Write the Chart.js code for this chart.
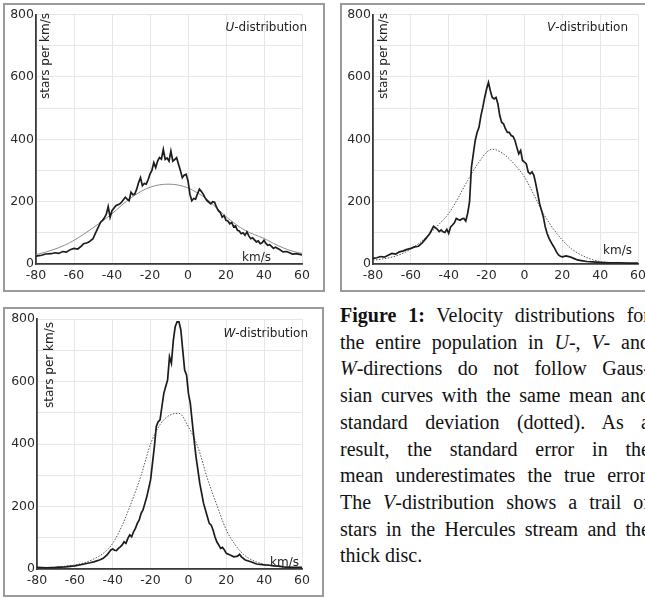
<!DOCTYPE html>
<html>
<head>
<meta charset="utf-8">
<script src="https://cdn.jsdelivr.net/npm/chart.js@4/dist/chart.umd.min.js"></script>
<style>
  html, body { margin: 0; padding: 0; background: #fff; }
  body { width: 645px; height: 599px; position: relative; overflow: hidden; font-family: "DejaVu Sans", sans-serif; }
  .panel { position: absolute; box-sizing: border-box; border: 2px solid #9a9a9a; background: #fff; }
  .panel canvas { position: absolute; left: 0; top: 0; }
  .lbl { position: absolute; font-size: 12px; line-height: 14px; color: #222; white-space: nowrap; }
  .ytitle { writing-mode: vertical-rl; transform: rotate(180deg); }
  .caption { position: absolute; left: 340px; top: 302px; width: 310px; font-family: "Liberation Serif", "Times New Roman", serif; font-size: 20px; line-height: 26.7px; color: #111; }
  .caption div { text-align: justify; text-align-last: justify; }
  .caption div.last { text-align-last: left; }
</style>
</head>
<body>

<div class="panel" style="left:3px;top:3px;width:322px;height:289px"><canvas id="chartU" width="318" height="285"></canvas></div>
<div class="panel" style="left:340px;top:3px;width:322px;height:289px"><canvas id="chartV" width="318" height="285"></canvas></div>
<div class="panel" style="left:3px;top:307px;width:321px;height:290px"><canvas id="chartW" width="317" height="286"></canvas></div>

<!-- in-plot labels -->
<div class="lbl" style="left:200px;top:20px;width:107px;text-align:right"><i>U</i>-distribution</div>
<div class="lbl ytitle" style="left:38px;top:13px">stars per km/s</div>
<div class="lbl" style="left:242px;top:250px">km/s</div>

<div class="lbl" style="left:521px;top:20px;width:107px;text-align:right"><i>V</i>-distribution</div>
<div class="lbl ytitle" style="left:376px;top:13px">stars per km/s</div>
<div class="lbl" style="left:603px;top:243px">km/s</div>

<div class="lbl" style="left:201px;top:326px;width:107px;text-align:right"><i>W</i>-distribution</div>
<div class="lbl ytitle" style="left:42px;top:322px">stars per km/s</div>
<div class="lbl" style="left:270px;top:555px">km/s</div>

<div class="caption">
  <div><b>Figure 1:</b> Velocity distributions for</div>
  <div>the entire population in <i>U</i>-, <i>V</i>- and</div>
  <div><i>W</i>-directions do not follow Gaus-</div>
  <div>sian curves with the same mean and</div>
  <div>standard deviation (dotted). As a</div>
  <div>result, the standard error in the</div>
  <div>mean underestimates the true error.</div>
  <div>The <i>V</i>-distribution shows a trail of</div>
  <div>stars in the Hercules stream and the</div>
  <div class="last">thick disc.</div>
</div>

<script>
(function () {
  // ---- U-distribution (stars per km/s) ----
  const uVel = [
    -80, -77, -75, -72, -70, -68, -66, -64, -62, -60, -58, -56, -55, -53, -52, -50,
    -49, -48, -46, -45, -44, -43, -42, -41, -40, -38, -36, -35, -33, -32, -31, -30,
    -29, -28, -27, -26, -25, -24, -23, -22, -21, -20, -19, -18, -17, -16, -15, -14,
    -13, -12, -11, -10, -9, -8, -7, -6, -5, -4, -3, -2, -1, 0, 1, 2,
    3, 4, 5, 6, 7, 8, 9, 10, 11, 12, 13, 14, 15, 16, 17, 18,
    19, 20, 21, 22, 23, 24, 25, 26, 27, 28, 29, 30, 31, 32, 33, 34,
    36, 37, 38, 39, 40, 41, 42, 43, 45, 46, 48, 50, 52, 55, 57, 60
  ];
  const uCount = [
    25, 28, 32, 33, 36, 34, 40, 38, 46, 50, 48, 58, 65, 68, 71, 81,
    95, 108, 134, 140, 148, 160, 184, 150, 171, 187, 192, 198, 214, 208, 203, 230,
    222, 224, 240, 261, 277, 251, 258, 256, 270, 288, 300, 325, 309, 330, 341, 336,
    367, 335, 340, 330, 362, 330, 335, 341, 320, 300, 277, 285, 288, 267, 224, 203,
    210, 208, 225, 240, 233, 224, 212, 203, 198, 193, 200, 198, 182, 171, 165, 150,
    155, 140, 138, 129, 133, 119, 122, 108, 106, 97, 100, 92, 103, 90, 81, 84,
    71, 74, 65, 68, 76, 66, 60, 62, 50, 54, 47, 39, 40, 32, 33, 29
  ];
  const uFitVel = [-80, -75, -70, -65, -60, -55, -50, -45, -40, -35, -30, -25, -20, -15, -10,
                   -5, 0, 5, 10, 15, 20, 25, 30, 35, 40, 45, 50, 55, 60];
  const uFit = [30, 38, 48, 60, 76, 95, 116, 138, 161, 188, 212, 232, 246, 254, 256,
                253, 244, 228, 208, 180, 152, 128, 108, 94, 82, 66, 52, 41, 34];

  // ---- V-distribution ----
  const vVel = [
    -80, -78, -76, -74, -72, -70, -68, -66, -64, -62, -60, -58, -56, -54, -52, -50, -48,
    -47, -46, -45, -44, -43, -42, -41, -40, -39, -38, -37, -36, -35, -34, -33, -32, -31,
    -30, -29, -28, -27, -26, -25, -24, -23, -22, -21, -20, -19, -18, -17, -16, -15, -14,
    -13, -12, -11, -10, -9, -8, -7, -6, -5, -4, -3, -2, -1, 0, 1, 2,
    3, 4, 5, 6, 7, 8, 9, 10, 11, 12, 13, 14, 15, 16, 17, 18, 19, 20,
    22, 24, 26, 28, 30, 33, 36, 40, 45, 50, 55, 60
  ];
  const vCount = [
    18, 20, 24, 22, 28, 34, 32, 39, 42, 47, 50, 55, 57, 68, 82, 98, 121,
    116, 111, 104, 109, 103, 101, 111, 98, 119, 125, 132, 146, 143, 140, 145, 146, 138,
    162, 199, 310, 353, 396, 422, 438, 475, 502, 534, 561, 582, 555, 534, 529, 534, 513,
    475, 454, 449, 433, 422, 422, 412, 409, 396, 374, 353, 364, 332, 327, 321, 295,
    289, 295, 284, 257, 226, 194, 172, 151, 119, 98, 82, 71, 60, 50, 38, 29, 25, 23,
    26, 23, 18, 13, 11, 8, 7, 5, 4, 4, 3, 3
  ];
  const vFitVel = [-80, -75, -70, -65, -60, -55, -50, -45, -40, -35, -30, -25, -20, -17, -15,
                   -10, -5, 0, 5, 10, 15, 20, 25, 30, 35, 40, 45, 50, 55, 60];
  const vFit = [12, 16, 22, 32, 48, 70, 98, 128, 162, 212, 268, 318, 358, 368, 366,
                348, 318, 279, 222, 162, 115, 77, 48, 29, 16, 8, 4, 2, 1, 0];

  // ---- W-distribution ----
  const wVel = [
    -80, -75, -70, -65, -60, -55, -52, -50, -47, -45, -43, -41,
    -40, -39, -38, -37, -36, -35, -34, -33, -32, -31, -30, -29, -28, -27, -26, -25, -24, -23, -22, -21,
    -20, -19, -18, -17, -16, -15, -14, -13, -12, -11, -10, -9, -8, -7, -6, -5, -4, -3, -2, -1,
    0, 1, 2, 3, 4, 5, 6, 7, 8, 9, 10, 11, 12, 13, 14, 15, 16, 17, 18, 19, 20,
    22, 24, 26, 27, 28, 30, 33, 36, 40, 43, 45, 48, 50, 55, 60
  ];
  const wCount = [
    5, 4, 5, 7, 10, 16, 20, 23, 29, 34, 45, 61,
    64, 60, 59, 66, 71, 77, 87, 82, 98, 109, 103, 119, 130, 146, 157, 178, 189, 210, 231, 258,
    285, 338, 391, 455, 471, 477, 520, 562, 584, 605, 679, 658, 730, 775, 791, 791, 765, 700, 637, 621,
    562, 530, 471, 413, 359, 317, 274, 242, 210, 189, 167, 146, 141, 125, 103, 87, 77, 66, 69, 61, 50,
    45, 39, 41, 47, 39, 29, 23, 16, 13, 12, 10, 9, 7, 5, 5
  ];
  const wFitVel = [-80, -75, -70, -65, -60, -55, -50, -45, -40, -35, -30, -25, -20, -15, -10,
                   -5, 0, 5, 10, 15, 20, 25, 30, 35, 40, 45, 50, 55, 60];
  const wFit = [3, 4, 6, 9, 13, 20, 32, 50, 82, 140, 215, 300, 400, 462, 492,
                498, 455, 390, 290, 205, 125, 75, 42, 25, 15, 9, 6, 4, 3];

  const xTicks = [-80, -60, -40, -20, 0, 20, 40, 60];
  const yTicks = [0, 200, 400, 600, 800];

  const FONT = { family: "'DejaVu Sans', sans-serif", size: 12.5 };
  const GRID = "#e6e6e6";
  const AXIS = "#3a3a3a";

  function pts(xs, ys) { return xs.map((x, i) => ({ x: x, y: ys[i] })); }

  function makePanel(id, obsX, obsY, fitX, fitY, dotted, box) {
    const el = document.getElementById(id);
    return new Chart(el, {
      type: "scatter",
      data: {
        datasets: [
          { data: pts(obsX, obsY), showLine: true, borderColor: "#1c1c1c", borderWidth: 1.7,
            pointRadius: 0, tension: 0 },
          { data: pts(fitX, fitY), showLine: true, borderColor: dotted ? "#555" : "#8c8c8c",
            borderWidth: 1, borderDash: dotted ? [1.5, 1.5] : [], pointRadius: 0,
            cubicInterpolationMode: "monotone" },
        ],
      },
      options: {
        responsive: false, animation: false, events: [],
        layout: { padding: { left: 0, top: box.top, right: box.right, bottom: 0 } },
        plugins: { legend: { display: false }, tooltip: { enabled: false } },
        scales: {
          x: {
            type: "linear", min: xTicks[0], max: xTicks[xTicks.length - 1],
            ticks: { stepSize: 20, font: FONT, color: "#2a2a2a", padding: 4, maxRotation: 0 },
            grid: { color: GRID, drawTicks: false },
            border: { color: AXIS, width: 1.8 },
            afterFit: (s) => { s.height = 26; },
          },
          y: {
            min: yTicks[0], max: yTicks[yTicks.length - 1],
            ticks: { stepSize: 100, font: FONT, color: "#2a2a2a", padding: 2,
                     callback: (v) => (yTicks.includes(v) ? v : "") },
            grid: { color: GRID, drawTicks: false },
            border: { color: AXIS, width: 1.8 },
            afterFit: (s) => { s.width = box.left; },
          },
        },
      },
    });
  }

  makePanel("chartU", uVel, uCount, uFitVel, uFit, false, { left: 31, top: 7, right: 21 });
  makePanel("chartV", vVel, vCount, vFitVel, vFit, true, { left: 31, top: 8, right: 22 });
  makePanel("chartW", wVel, wCount, wFitVel, wFit, true, { left: 32, top: 10, right: 20 });
})();
</script>
</body>
</html>
